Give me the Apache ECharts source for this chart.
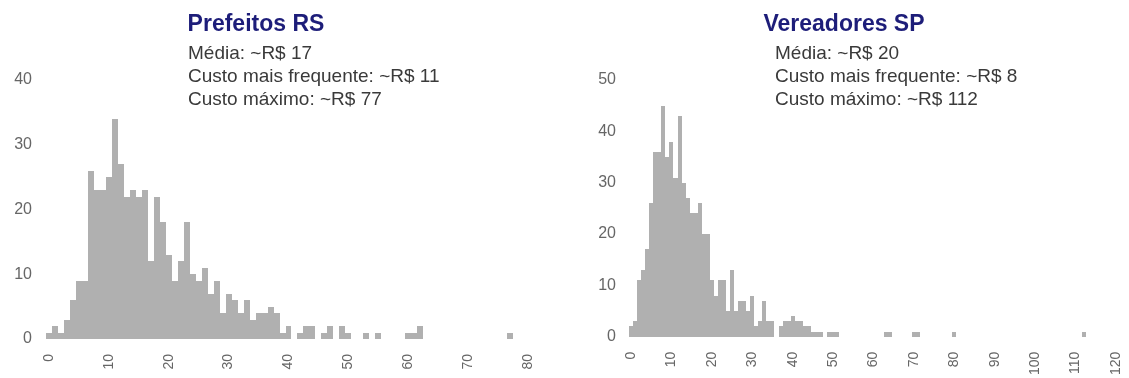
<!DOCTYPE html>
<html>
<head>
<meta charset="utf-8">
<script src="https://cdn.jsdelivr.net/npm/echarts@6/dist/echarts.min.js"></script>
<style>
html,body{margin:0;padding:0;background:#ffffff;}
#chart{width:1129px;height:378px;}
</style>
</head>
<body>
<div id="chart"></div>
<script>
// ---------- DATA ----------
const prefeitosTitle = 'Prefeitos RS';
const prefeitosNotes = ['Média: ~R$ 17', 'Custo mais frequente: ~R$ 11', 'Custo máximo: ~R$ 77'];
const prefeitosBins = [0,1,2,3,4,5,6,7,8,9,10,11,12,13,14,15,16,17,18,19,20,21,22,23,24,25,26,27,28,29,30,31,32,33,34,35,36,37,38,39,40,42,43,44,46,47,49,50,53,55,60,61,62,77];
const prefeitosCounts = [1,2,1,3,6,9,9,26,23,23,25,34,27,22,23,22,23,12,22,18,13,9,12,18,10,9,11,7,9,4,7,6,4,6,3,4,4,5,4,1,2,1,2,2,1,2,2,1,1,1,1,1,2,1];
const prefeitosXTicks = [0,10,20,30,40,50,60,70,80];
const prefeitosYTicks = [0,10,20,30,40];

const vereadoresTitle = 'Vereadores SP';
const vereadoresNotes = ['Média: ~R$ 20', 'Custo mais frequente: ~R$ 8', 'Custo máximo: ~R$ 112'];
const vereadoresBins = [0,1,2,3,4,5,6,7,8,9,10,11,12,13,14,15,16,17,18,19,20,21,22,23,24,25,26,27,28,29,30,31,32,33,34,35,37,38,39,40,41,42,43,44,45,46,47,49,50,51,63,64,70,71,80,112];
const vereadoresCounts = [2,3,11,13,17,26,36,36,45,35,38,31,43,30,27,24,24,26,20,20,11,8,11,11,5,13,5,7,7,5,8,2,3,7,3,3,2,3,3,4,3,3,2,2,1,1,1,1,1,1,1,1,1,1,1,1];
const vereadoresXTicks = [0,10,20,30,40,50,60,70,80,90,100,110,120];
const vereadoresYTicks = [0,10,20,30,40,50];

const binWidth = 1;

// ---------- STYLE ----------
const BAR = '#b0b0b0';
const FONT = '"Liberation Sans", Arial, Helvetica, sans-serif';
const LABEL = '#666666';

function hist(idx, bins, counts) {
  return {
    type: 'custom',
    xAxisIndex: idx, yAxisIndex: idx,
    silent: true, animation: false,
    data: bins.map((b, i) => [b, counts[i]]),
    renderItem: function (params, api) {
      const x = api.value(0), y = api.value(1);
      const a = api.coord([x - binWidth / 2, y]);
      const b = api.coord([x + binWidth / 2, 0]);
      const x0 = Math.round(a[0]), x1 = Math.round(b[0]);
      const y0 = Math.round(a[1]), y1 = Math.round(b[1]);
      return {
        type: 'rect',
        shape: { x: x0, y: y0, width: x1 - x0, height: y1 - y0 },
        style: { fill: BAR }
      };
    }
  };
}

function xAxis(idx, min, max, ticks) {
  return {
    type: 'value', gridIndex: idx, min: min, max: max,
    axisLine: { show: false }, axisTick: { show: false }, splitLine: { show: false },
    axisLabel: { customValues: ticks, rotate: 90, margin: 15, fontSize: 14, color: LABEL, fontFamily: FONT }
  };
}
function yAxis(idx, ticks) {
  return {
    type: 'value', gridIndex: idx, min: ticks[0], max: ticks[ticks.length - 1], interval: ticks[1] - ticks[0],
    axisLine: { show: false }, axisTick: { show: false }, splitLine: { show: false },
    axisLabel: { margin: 11, fontSize: 16, color: LABEL, fontFamily: FONT }
  };
}
function textEl(x, y, txt, font, fill, align, lh) {
  return {
    type: 'text', x: x, y: y, silent: true,
    style: { text: txt, font: font, fill: fill, align: align, verticalAlign: 'top',
             textAlign: align, textVerticalAlign: 'top', lineHeight: lh }
  };
}

const chart = echarts.init(document.getElementById('chart'), null, { renderer: 'canvas' });
chart.setOption({
  animation: false,
  backgroundColor: '#ffffff',
  grid: [
    { left: 43, top: 80, width: 491, height: 259 },
    { left: 627, top: 80, width: 493, height: 259 }
  ],
  xAxis: [ xAxis(0, -1, 81, prefeitosXTicks), xAxis(1, -1, 121, vereadoresXTicks) ],
  yAxis: [ yAxis(0, prefeitosYTicks), yAxis(1, vereadoresYTicks) ],
  series: [ hist(0, prefeitosBins, prefeitosCounts), hist(1, vereadoresBins, vereadoresCounts) ],
  graphic: [
    textEl(256, 12, prefeitosTitle, 'bold 23px ' + FONT, '#1d1d79', 'center', 26),
    textEl(844, 12, vereadoresTitle, 'bold 23px ' + FONT, '#1d1d79', 'center', 26),
    textEl(188, 42, prefeitosNotes.join('\n'), '19px ' + FONT, '#3a3a3a', 'left', 23),
    textEl(775, 42, vereadoresNotes.join('\n'), '19px ' + FONT, '#3a3a3a', 'left', 23)
  ]
});
</script>
</body>
</html>
